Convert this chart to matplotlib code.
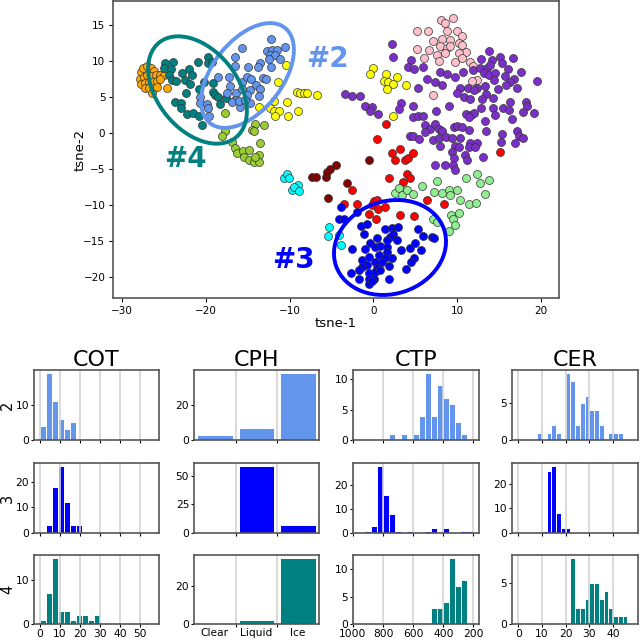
import numpy as np
import matplotlib
matplotlib.use('Agg')
import matplotlib.pyplot as plt
from matplotlib.patches import Ellipse
from matplotlib.transforms import IdentityTransform

# t-SNE clusters, values
orange = [(-27.8,8.5),(-27.5,9),(-27,9.3),(-26.6,9),(-26.2,8.6),(-27.9,7.5),(-27.4,7.8),(-27,8),(-26.5,7.9),(-26,8),
          (-25.5,8),(-25,8.1),(-27.8,6.8),(-27.3,6.9),(-26.8,7),(-26.3,7),(-25.8,7.2),(-25.5,7.5),(-27.3,6.2),
          (-26.8,6.3),(-26.2,6.2),(-26.4,5.6),(-25.8,6.4),(-24.7,6.2)]
teal = [(-24.9,9.7),(-25,9),(-23.9,9.8),(-24.2,8.9),(-24.4,8),(-24,7.4),(-23.6,7.2),(-22.8,8.3),(-22,8.9),(-21.6,8),
        (-22.5,7.4),(-21.9,6.8),(-20.9,9.8),(-19.7,10.6),(-19.8,9.7),(-19.3,9.9),(-20.8,6.1),(-20.2,7.1),(-22.4,5.5),
        (-23.7,4.3),(-23,4.2),(-23,3.4),(-22.2,2.6),(-21.5,2.7),(-20.8,2.3),(-20.5,1.1),(-19.2,6.9),(-19.1,5.7),
        (-18.9,5.3),(-18.5,5),(-17.6,4.8),(-18.3,4)]
light_blue = [(-15.7,11.8),(-12.2,13),(-10.6,11.9),(-12.7,11.3),(-12.1,11.5),(-11.5,11.5),(-12.3,10.8),(-11.7,10.8),
              (-12.5,10.2),(-11.1,10.2),(-16.5,10.5),(-16.5,9.3),(-15,9.1),(-13.5,9.7),(-13.8,9.1),(-12.2,9.2),
              (-18.5,7.7),(-17.2,7.7),(-15.7,7.1),(-15.1,7.7),(-14.6,7.5),(-14,6.7),(-13.2,7.6),(-12.8,7.5),
              (-17.1,6.5),(-17.5,5.6),(-14.7,6),(-13.5,6.1),(-16.4,5.6),(-15.1,5.3),(-13.7,5.1),(-16.5,4.6),
              (-16.9,4.3),(-15.9,3.6),(-14.7,4.1),(-20.7,5),(-20.7,4.1),(-19.9,4),(-19.8,3.4),(-19.6,2.3),
              (-16.1,4.4),(-15.3,4.6),(-15.7,6.1)]
yellow = [(-10.4,9.4),(-11.4,7.1),(-9.1,5.7),(-8.7,5.6),(-8.3,5.6),(-7.9,5.5),(-6.7,5.3),(-10.3,4.3),(-11.9,4.4),
          (-9,3.1),(-12.3,3.4),(-11.9,3),(-11.3,3.1),(-11.7,2.3),(-10.2,2.4),(-13.7,3.6),(0,9),(-0.4,8.2),(1.5,8.2),
          (2.8,7.8),(1.3,7.2),(1.8,7.1),(2.4,6.8),(1.6,6.1),(3.9,6.6),(2.35,2.3)]
yellow_green = [(-17.7,2.7),(-13.1,1.1),(-14.1,1.3),(-14.5,0.4),(-14.2,0.2),(-17.7,0.2),(-18.1,-0.4),(-16.9,-1.2),
                (-13.5,-1.4),(-16.5,-2.1),(-16.3,-2.8),(-15.6,-2.5),(-14.9,-2.3),(-15.5,-3.3),(-14.9,-3.7),(-14.3,-4),
                (-13.7,-3.1),(-13.6,-4),(-14.1,-3.3)]
dark_red = [(-7.3,-6.1),(-6.8,-6.1),(-5.7,-6.1),(-5.5,-5.4),(-5.2,-5),(-4.5,-4.4),(-3.1,-6.9),(-0.5,-3.8),(-5.4,-9)]
red = [(-3.5,-9.8),(-2,-9.9),(-2.5,-7.9),(1.9,-6.3),(4,-5.7),(4.4,-6.3),(3.6,-6.8),(6.4,-9.3),(8.5,-9.9),(0.05,-9.5),
       (0.5,-9.3),(-0.2,-10),(0.6,-10.5),(1.4,-10.3),(-0.5,-11.2),(0.3,-12),(3.2,-11.4),(4.9,-11.5),(2.3,-2.8),
       (2.6,-3.7),(3.8,-3.8),(4.2,-3.5),(4.8,-2.8),(1.5,1.3),(0.5,-0.8),(3.15,-2.2),(15.2,-2.7)]
cyan = [(-10.7,-6.3),(-10.3,-5.7),(-10.1,-6.3),(-9.7,-7.9),(-9,-7.2),(-9.5,-7.5),(-8.9,-8),(-5.3,-13),(-5.4,-14.3),
        (-3.9,-15.6),(-4.1,-14.2)]
blue = [(-3.9,-10.3),(-4.1,-11.9),(-3.5,-11.9),(-2,-11),(-1.5,-12.9),(-0.8,-12.6),(-1.1,-14),(1.4,-13.3),(2.2,-13.2),
        (3,-13.1),(2.4,-14),(2.05,-14.5),(0.45,-14.6),(1.6,-14.8),(2.8,-14.9),(-0.35,-15.3),(0.25,-15.8),(0.85,-15.7),
        (1.65,-15.8),(-0.95,-16.1),(-2.5,-16.1),(1.65,-16.5),(3.3,-16.2),(4.35,-15.9),(5.05,-15.3),(5.7,-16.2),
        (5.3,-13.3),(6,-14.3),(7,-14.5),(7.3,-14.6),(2.25,-17.3),(4.85,-17.4),(4.5,-17.9),(3.9,-18.9),(-1.4,-17.6),
        (-0.55,-17.2),(0.65,-17),(1.45,-17.3),(1.05,-17.9),(0.25,-17.9),(-0.75,-18.3),(-1.35,-18.6),(0.45,-18.7),
        (1.85,-18.5),(-1.75,-19),(-2.6,-19.4),(-0.55,-19.5),(0.25,-19.3),(0.85,-19),(-1.75,-20.2),(-0.55,-20.2),
        (0.05,-20.2),(1.85,-20.3),(-0.55,-21),(-0.15,-20.6)]
light_green = [(2.65,-8.4),(3.05,-7.6),(3.45,-8.6),(4.05,-7.9),(4.75,-8.5),(5.85,-7.3),(7.6,-6.7),(7.25,-8.2),(8.2,-8.4),
               (9,-7.9),(10,-7.9),(9.2,-8.6),(10.4,-9.3),(11.1,-6.2),(12.4,-5.7),(12.8,-6.9),(13.8,-6.6),(13.4,-8.5),
               (11.5,-9.8),(12.3,-9.7),(10.3,-11.1),(9.3,-11.4),(7.15,-11.9),(7.6,-12.3),(9.55,-11.9),(9.8,-12.8),(9,-13.6)]
purple = [(2.2,12.4),(2.35,10.6),(4.5,10.1),(4.2,9.1),(4.9,8.9),(6,9.1),(8,8.5),(8.8,8.2),(9.8,7.7),(10.7,8.4),(11.9,8.7),
          (13.8,11.4),(12.9,10.2),(14.2,10.1),(15.2,10.5),(16.7,10.4),(15.4,9.7),(16.1,8.9),(17.7,8.5),(19.6,7.2),
          (12.8,9),(13.6,9),(14,9.4),(13.2,8.3),(13.8,8.1),(14.6,8.3),(15.7,7.9),(16.8,7.5),(16.4,7.1),(15.9,6.7),
          (17.2,6.2),(14.9,6.1),(13.4,6.5),(14.4,7.4),(6.4,7.5),(7.4,7),(8.2,6.6),(5.4,6.2),(10.4,6.3),(10,5.6),
          (11.3,6.3),(12.4,6.3),(12,5.9),(13.5,5.4),(10.9,5),(11.6,4.7),(13,4.7),(14.3,4.9),(16.4,4.3),(18.2,4.3),
          (18.4,3.7),(12.9,3.4),(14.3,3.4),(15.5,3.4),(16.2,3.2),(17.9,2.9),(19.2,2.7),(14.5,2.5),(16.6,2),(13.3,1.7),
          (11.1,2.6),(11.7,2.5),(12,2.8),(11.4,2.2),(-3.4,5.4),(-2.5,5.1),(-1.6,5.1),(-1,3.7),(-0.2,3.6),(-0.4,3),
          (0.55,2.6),(3.35,4.1),(3.1,3.3),(4.8,3.7),(7.5,3),(9.1,3.7),(4.75,2.2),(5.3,2.3),(6,2.4),(6.2,1.1),(6.8,0.6),
          (6.2,0.1),(7.4,1.2),(7.8,0.6),(8.2,0.2),(9.6,0.8),(10,1),(10.6,0.8),(11.5,0.4),(13.5,0.3),(15.4,-0.1),
          (17.2,0.2),(17.4,-0.4),(17.9,-0.65),(16.9,-1.4),(15.3,-1.2),(4.35,-0.4),(4.8,-0.4),(5.5,-0.9),(7.2,-1),
          (7.8,-0.75),(8.7,-0.5),(9.4,-0.75),(10.4,-0.65),(8,-1.8),(9.8,-1.8),(10.3,-1.9),(11.6,-1.35),(12.4,-1.45),
          (11.5,-2),(12.2,-2),(9.4,-2.7),(9.6,-3.5),(11,-3),(11.2,-3.8),(13.1,-3.4),(7.4,-4.4),(8.6,-4.4),(9.5,-4.5),
          (9.8,-5.1)]
pink = [(9.5,15.9),(8.1,15.7),(8.6,15.2),(5.2,14.2),(6.6,14.1),(8.8,14.2),(10,14.1),(10.6,13.4),(7.1,12.8),(8.2,13),
        (9.2,12.9),(10.2,12.5),(5.2,11.6),(6.7,11.5),(8,12),(8.8,11.8),(10.6,12.2),(11.1,11.2),(10.2,11.1),(8.6,11.1),
        (7.6,10.8),(7.9,10),(6.1,10.4),(9.8,9.9),(10.6,10.4),(11.6,9.9),(11.9,9.3),(12.4,7.4),(11.8,7.2),(7.2,5.3),
        (9.2,12)]

cot_2 = [4,19,11,6,3,5,0,0,0,0,0,0,0,0,0,0,0,0,0,0]
cot_3 = [0,3,18,26,12,3,3,0,0,0,0,0,0,0,0,0,0,0,0,0]
cot_4 = [1,7,15,3,3,1,2,2,1,2,0,0,0,0,0,0,0,0,0,0]
cph_2 = [3,7,38]
cph_3 = [0,58,7]
cph_4 = [0,2,35]
ctp_2 = [0,0,0,0,0,0,1,0,1,0,1,4,11,4,9,7,6,3,1,0]
ctp_3 = [0,0,1,3,28,16,8,1,0,1,0,0,1,2,0,2,0,0,1,1]
ctp_4 = [0,0,0,0,0,0,0,0,0,0,0,0,0,3,3,4,12,7,8,0]
cer_2 = [0,0,0,0,1,0,1,2,1,0,9,8,2,5,6,4,4,2,0,1,1,1,0,0,0]
cer_3 = [0,0,0,0,0,1,25,27,8,2,2,0,0,0,0,0,0,0,0,0,0,0,0,0,0]
cer_4 = [0,0,0,0,0,0,0,0,0,0,0,8,2,2,3,5,5,3,4,2,1,1,1,0,0]

cph_labels = ['Clear', 'Liquid', 'Ice']
row_names = ['2', '3', '4']
col_names = ['COT', 'CPH', 'CTP', 'CER']

W = 640
H = 640
fig = plt.figure(figsize=(6.4, 6.4), dpi=100)
GRAY = '#555555'


# оси по пикселям картинки
def px_axes(x0, y0, x1, y1):
    ax = fig.add_axes([x0 / W, 1 - y1 / H, (x1 - x0) / W, (y1 - y0) / H])
    for s in ax.spines.values():
        s.set_color(GRAY)
        s.set_linewidth(1.2)
    ax.tick_params(labelsize=7.7, length=2, width=0.8, pad=1.5)
    return ax


ax = px_axes(113, 1, 559, 298)
clusters = [(orange, 'orange'), (yellow, 'yellow'), (yellow_green, 'yellowgreen'), (pink, 'pink'),
            (purple, '#7b2fc9'), (red, 'red'), (dark_red, 'maroon'), (cyan, 'cyan'),
            (light_green, 'lightgreen'), (blue, 'blue'), (teal, 'teal'), (light_blue, 'cornflowerblue')]
for pts, col in clusters:
    pts = np.array(pts)
    ax.scatter(pts[:, 0], pts[:, 1], s=33, c=col, edgecolors='#333333', linewidths=0.5)
ax.set_xlim(-31.1, 22.2)
ax.set_ylim(-22.9, 18.3)
ax.set_xticks([-30, -20, -10, 0, 10, 20])
ax.set_yticks([-20, -15, -10, -5, 0, 5, 10, 15])
ax.tick_params(labelsize=7.5, length=3, pad=2.5)
ax.set_xlabel('tsne-1', fontsize=9.5, labelpad=1)
ax.set_ylabel('tsne-2', fontsize=9.5, labelpad=-2)

# эллипсы в пикселях: центр, большая и малая полуоси, угол
rings = [(247.5, 75.5, 60.6, 35, 52, 'cornflowerblue'),
         (197.5, 90, 61, 40, -51, 'teal'),
         (390, 247.5, 57, 46.3, 18.5, 'blue')]
for cx, cy, a, b, ang, col in rings:
    ax.add_patch(Ellipse((cx, H - cy), 2 * a, 2 * b, angle=ang, fill=False, edgecolor=col,
                         linewidth=2.8, transform=IdentityTransform(), zorder=5))

ax.text(-5.45, 10.2, '#2', color='cornflowerblue', fontsize=20, fontweight='bold', ha='center', va='center')
ax.text(-22.5, -3.6, '#4', color='teal', fontsize=20, fontweight='bold', ha='center', va='center')
ax.text(-9.5, -17.6, '#3', color='blue', fontsize=20, fontweight='bold', ha='center', va='center')

col_px = [(34, 159), (194, 319), (353, 479), (512, 638)]
row_px = [(370, 440), (463, 533), (555, 624)]
row_colors = ['cornflowerblue', 'blue', 'teal']
col_data = [[cot_2, cot_3, cot_4], [cph_2, cph_3, cph_4], [ctp_2, ctp_3, ctp_4], [cer_2, cer_3, cer_4]]
y_ticks = [[[0, 10], [0, 10, 20], [0, 10]],
           [[0, 20], [0, 25, 50], [0, 20]],
           [[0, 5, 10], [0, 10, 20], [0, 5, 10]],
           [[0, 5], [0, 10, 20], [0, 5]]]
x_ticks = [[0, 10, 20, 30, 40, 50], [1, 2], [1000, 800, 600, 400, 200], [0, 10, 20, 30, 40]]
x_lims = [(-3, 59.6), (0, 3), (1000, 163), (-2.65, 50.5)]
bin_left = [0, 0, 1000, 0]
bin_step = [3, 1, -40, 2]

for c, (x0, x1) in enumerate(col_px):
    for r, (y0, y1) in enumerate(row_px):
        a = px_axes(x0, y0, x1, y1)
        vals = col_data[c][r]
        centers = bin_left[c] + bin_step[c] * (np.arange(len(vals)) + 0.5)
        width = abs(bin_step[c]) * (0.85 if c == 1 else 1)
        a.bar(centers, vals, width=width, color=row_colors[r], edgecolor='white', linewidth=0.7)
        a.set_xlim(*x_lims[c])
        a.set_xticks(x_ticks[c])
        a.set_yticks(y_ticks[c][r])
        a.grid(axis='x', color='lightgray', linewidth=1.2)
        if c == 1:
            a.set_xticklabels([])
            if r == 2:
                a.set_xticks([0.5, 1.5, 2.5], minor=True)
                a.set_xticklabels(cph_labels, minor=True, fontsize=7.7)
                a.tick_params(axis='x', which='minor', length=0, pad=3)
        elif r < 2:
            a.set_xticklabels([])
        if c == 0:
            a.set_ylabel(row_names[r], fontsize=10.5)
            a.yaxis.set_label_coords(-0.15, 0.5)
        if r == 0:
            a.set_title(col_names[c], fontsize=16, pad=2)

fig.savefig('out.png', dpi=100)
